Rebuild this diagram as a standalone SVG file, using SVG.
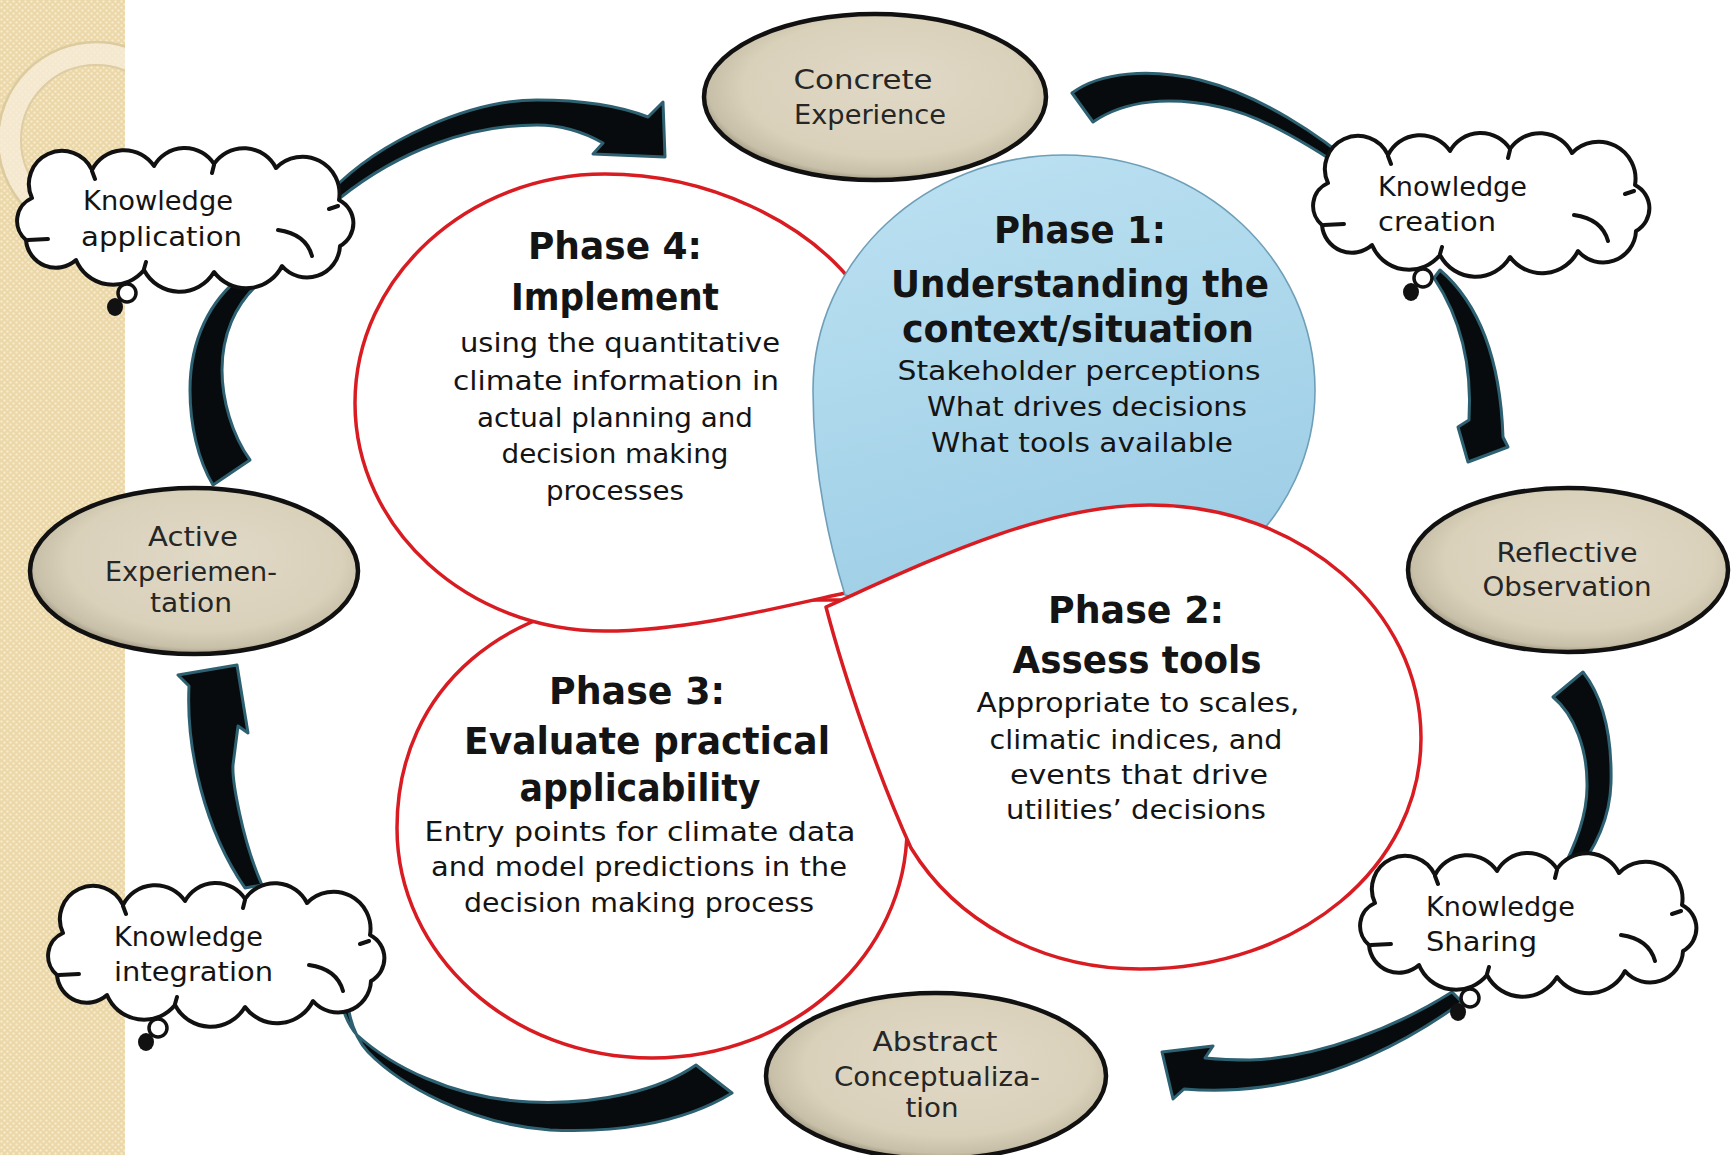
<svg xmlns="http://www.w3.org/2000/svg" xmlns:xlink="http://www.w3.org/1999/xlink" width="1731" height="1155" viewBox="0 0 1731 1155">
  <defs>
    <style>
      text { font-family: "Comic Sans MS", "DejaVu Sans", sans-serif; fill: #141414; }
      .ph { font-size: 37px; font-weight: bold; text-anchor: middle; }
      .bd { font-size: 26px; text-anchor: middle; }
      .el { font-size: 26px; text-anchor: middle; fill: #262626; }
      .cl { font-size: 26px; text-anchor: start; }
      .phase { fill: #ffffff; stroke: #d81c22; stroke-width: 3.5; stroke-linejoin: round; }
      .phase1 { fill: url(#blueFill); stroke: #6f9fb8; stroke-width: 1.6; }
      .stage { fill: url(#tanFill); stroke: #111111; stroke-width: 4.5; }
      .arrow { fill: #070b0d; stroke: #2d6171; stroke-width: 3; stroke-linejoin: round; }
      .cloud { fill: #ffffff; stroke: #111111; stroke-width: 4; stroke-linejoin: round; }
      .crease { fill: none; stroke: #111111; stroke-width: 4; stroke-linecap: round; }
    </style>
    <pattern id="dots" width="6" height="6" patternUnits="userSpaceOnUse">
      <rect width="6" height="6" fill="#ebd7a8"/>
      <circle cx="1.5" cy="1.5" r="1.2" fill="#f6eacf"/>
      <circle cx="4.5" cy="4.5" r="1.2" fill="#f6eacf"/>
    </pattern>
    <clipPath id="stripClip">
      <rect x="0" y="0" width="125" height="1155"/>
    </clipPath>
    <radialGradient id="tanFill" cx="52%" cy="46%" r="55%" fx="58%" fy="38%">
      <stop offset="0" stop-color="#e0d9c6"/>
      <stop offset="0.76" stop-color="#dad1bb"/>
      <stop offset="0.93" stop-color="#c8bfa8"/>
      <stop offset="1" stop-color="#9a917d"/>
    </radialGradient>
    <linearGradient id="blueFill" x1="0" y1="0" x2="0.3" y2="1">
      <stop offset="0" stop-color="#bde2f2"/>
      <stop offset="1" stop-color="#9ecee6"/>
    </linearGradient>
    <!-- thought cloud, local box about 340 x 160 -->
    <g id="cloudShape">
      <path class="cloud" d="M 12,90 A 25,25 0 0 1 18,48 A 33,33 0 0 1 78,20 A 36,36 0 0 1 140,16 A 35,35 0 0 1 200,14 A 36,36 0 0 1 262,18 A 37,37 0 0 1 325,50 A 26,26 0 0 1 326,96 A 33,33 0 0 1 268,116 A 40,40 0 0 1 200,122 A 40,40 0 0 1 130,120 A 40,40 0 0 1 62,110 A 30,30 0 0 1 12,90 Z"/>
      <path class="crease" d="M 14,90 l 20,-1 M 78,21 l 3,8 M 200,15 l -2,8 M 324,56 l -9,3 M 264,80 Q 292,84 298,106 M 130,119 l 2,-7"/>
      <circle cx="113" cy="143" r="9" fill="#ffffff" stroke="#111111" stroke-width="3.5"/>
      <ellipse cx="101" cy="157" rx="8" ry="9" fill="#111111"/>
    </g>
  </defs>

  <!-- page background and decorated margin -->
  <rect x="0" y="0" width="1731" height="1155" fill="#ffffff"/>
  <g id="margin">
    <rect x="0" y="0" width="125" height="1155" fill="url(#dots)"/>
    <g clip-path="url(#stripClip)" fill="none">
      <circle cx="96" cy="140" r="86" stroke="#f7eedb" stroke-width="22" opacity="0.75"/>
      <circle cx="96" cy="140" r="98" stroke="#dccb9f" stroke-width="2.5"/>
      <circle cx="96" cy="140" r="75" stroke="#decda3" stroke-width="2"/>
    </g>
  </g>

  <!-- the four phases -->
  <g id="phase3">
    <path class="phase" d="M 397,828 C 397,685 511,598 652,598 C 720,598 790,600 840,600 C 880,660 907,750 907,828 C 907,955 793,1058 652,1058 C 511,1058 397,955 397,828 Z"/>
    <text class="ph" x="637" y="704" textLength="176" lengthAdjust="spacingAndGlyphs">Phase 3:</text>
    <text class="ph" x="647" y="754" textLength="366" lengthAdjust="spacingAndGlyphs">Evaluate practical</text>
    <text class="ph" x="640" y="801" textLength="241" lengthAdjust="spacingAndGlyphs">applicability</text>
    <text class="bd" x="640" y="841" textLength="431" lengthAdjust="spacingAndGlyphs">Entry points for climate data</text>
    <text class="bd" x="639" y="876" textLength="416" lengthAdjust="spacingAndGlyphs">and model predictions in the</text>
    <text class="bd" x="639" y="912" textLength="350" lengthAdjust="spacingAndGlyphs">decision making process</text>
  </g>

  <g id="phase4">
    <path class="phase" d="M 845,593 C 773,609 684,631 605,631 C 468,631 355,529 355,403 C 355,277 468,174 605,174 C 707,174 806,221 856,287 C 872,364 861,497 845,593 Z"/>
    <text class="ph" x="615" y="259" textLength="174" lengthAdjust="spacingAndGlyphs">Phase 4:</text>
    <text class="ph" x="615" y="310" textLength="208" lengthAdjust="spacingAndGlyphs">Implement</text>
    <text class="bd" x="620" y="352" textLength="320" lengthAdjust="spacingAndGlyphs">using the quantitative</text>
    <text class="bd" x="616" y="390" textLength="326" lengthAdjust="spacingAndGlyphs">climate information in</text>
    <text class="bd" x="615" y="427" textLength="276" lengthAdjust="spacingAndGlyphs">actual planning and</text>
    <text class="bd" x="615" y="463" textLength="227" lengthAdjust="spacingAndGlyphs">decision making</text>
    <text class="bd" x="615" y="500" textLength="138" lengthAdjust="spacingAndGlyphs">processes</text>
  </g>

  <g id="phase1">
    <path class="phase1" d="M 845,595 C 825,530 813,460 813,390 C 813,260 925,155 1064,155 C 1203,155 1315,260 1315,390 C 1315,517 1203,620 1064,620 C 980,620 890,605 845,595 Z"/>
    <text class="ph" x="1080" y="243" textLength="172" lengthAdjust="spacingAndGlyphs">Phase 1:</text>
    <text class="ph" x="1080" y="297" textLength="378" lengthAdjust="spacingAndGlyphs">Understanding the</text>
    <text class="ph" x="1078" y="342" textLength="352" lengthAdjust="spacingAndGlyphs">context/situation</text>
    <text class="bd" x="1079" y="380" textLength="363" lengthAdjust="spacingAndGlyphs">Stakeholder perceptions</text>
    <text class="bd" x="1087" y="416" textLength="320" lengthAdjust="spacingAndGlyphs">What drives decisions</text>
    <text class="bd" x="1082" y="452" textLength="302" lengthAdjust="spacingAndGlyphs">What tools available</text>
  </g>

  <g id="phase2">
    <path class="phase" d="M 826,607 C 920,565 1040,505 1150,505 C 1300,505 1421,610 1421,738 C 1421,866 1300,969 1140,969 C 1040,969 955,920 911,848 C 880,780 845,680 826,607 Z"/>
    <text class="ph" x="1136" y="623" textLength="176" lengthAdjust="spacingAndGlyphs">Phase 2:</text>
    <text class="ph" x="1137" y="673" textLength="249" lengthAdjust="spacingAndGlyphs">Assess tools</text>
    <text class="bd" x="1138" y="712" textLength="323" lengthAdjust="spacingAndGlyphs">Appropriate to scales,</text>
    <text class="bd" x="1136" y="749" textLength="293" lengthAdjust="spacingAndGlyphs">climatic indices, and</text>
    <text class="bd" x="1139" y="784" textLength="258" lengthAdjust="spacingAndGlyphs">events that drive</text>
    <text class="bd" x="1136" y="819" textLength="260" lengthAdjust="spacingAndGlyphs">utilities’ decisions</text>
  </g>

  <!-- curved cycle arrows -->
  <g id="connectors">
    <path class="arrow" d="M 213,485 L 250,460 C 232,435 222,400 222,370 C 222,335 235,305 258,284 L 242,276 C 210,300 190,340 190,390 C 190,425 198,460 213,485 Z"/>
    <path class="arrow" d="M 330,192 C 380,140 470,100 537,100 C 590,100 625,108 648,117 L 663,102 L 665,157 L 593,154 L 603,143 C 580,130 560,125 537,125 C 470,125 400,150 340,198 Z"/>
    <path class="arrow" d="M 1072,93 C 1100,72 1150,68 1200,80 C 1260,95 1320,135 1360,170 L 1352,174 C 1310,145 1260,115 1220,107 C 1170,96 1125,100 1093,122 Z"/>
    <path class="arrow" d="M 1440,270 C 1475,300 1500,350 1503,437 L 1508,447 L 1468,462 L 1458,427 L 1469,420 C 1472,370 1462,320 1434,278 Z"/>
    <path class="arrow" d="M 1553,697 L 1583,672 C 1605,700 1612,740 1611,783 C 1610,820 1595,850 1572,878 L 1560,875 C 1575,845 1588,815 1587,783 C 1587,750 1575,715 1553,697 Z"/>
    <path class="arrow" d="M 1452,992 C 1400,1025 1320,1058 1250,1060 C 1232,1060 1215,1059 1205,1058 L 1213,1046 L 1162,1052 L 1173,1099 L 1184,1089 C 1210,1091 1240,1090 1262,1087 C 1340,1077 1410,1040 1462,1002 Z"/>
    <path class="arrow" d="M 696,1065 L 732,1093 C 680,1125 610,1133 550,1130 C 470,1124 400,1085 368,1052 C 355,1038 348,1015 346,992 L 338,990 C 342,1010 348,1025 357,1035 C 390,1065 450,1098 530,1102 C 600,1105 660,1090 696,1065 Z"/>
    <path class="arrow" d="M 262,885 C 242,840 232,780 233,765 L 238,726 L 248,733 L 237,665 L 178,675 L 189,686 C 186,750 205,830 245,888 Z"/>
  </g>

  <!-- learning-cycle stages -->
  <g id="concrete-experience">
    <ellipse class="stage" cx="875" cy="97" rx="171" ry="83"/>
    <text class="el" x="863" y="89" textLength="139" lengthAdjust="spacingAndGlyphs">Concrete</text>
    <text class="el" x="870" y="124" textLength="152" lengthAdjust="spacingAndGlyphs">Experience</text>
  </g>
  <g id="reflective-observation">
    <ellipse class="stage" cx="1568" cy="570" rx="160" ry="82"/>
    <text class="el" x="1567" y="562" textLength="141" lengthAdjust="spacingAndGlyphs">Reflective</text>
    <text class="el" x="1567" y="596" textLength="169" lengthAdjust="spacingAndGlyphs">Observation</text>
  </g>
  <g id="abstract-conceptualization">
    <ellipse class="stage" cx="936" cy="1076" rx="170" ry="83"/>
    <text class="el" x="935" y="1051" textLength="125" lengthAdjust="spacingAndGlyphs">Abstract</text>
    <text class="el" x="937" y="1086" textLength="206" lengthAdjust="spacingAndGlyphs">Conceptualiza-</text>
    <text class="el" x="932" y="1117" textLength="53" lengthAdjust="spacingAndGlyphs">tion</text>
  </g>
  <g id="active-experimentation">
    <ellipse class="stage" cx="194" cy="571" rx="164" ry="83"/>
    <text class="el" x="193" y="546" textLength="90" lengthAdjust="spacingAndGlyphs">Active</text>
    <text class="el" x="191" y="581" textLength="172" lengthAdjust="spacingAndGlyphs">Experiemen-</text>
    <text class="el" x="191" y="612" textLength="82" lengthAdjust="spacingAndGlyphs">tation</text>
  </g>

  <!-- knowledge thought clouds -->
  <g id="knowledge-application" transform="translate(14,150)">
    <use xlink:href="#cloudShape"/>
    <text class="cl" x="69" y="60" textLength="150" lengthAdjust="spacingAndGlyphs">Knowledge</text>
    <text class="cl" x="67" y="96" textLength="161" lengthAdjust="spacingAndGlyphs">application</text>
  </g>
  <g id="knowledge-creation" transform="translate(1310,135)">
    <use xlink:href="#cloudShape"/>
    <text class="cl" x="68" y="61" textLength="149" lengthAdjust="spacingAndGlyphs">Knowledge</text>
    <text class="cl" x="68" y="96" textLength="118" lengthAdjust="spacingAndGlyphs">creation</text>
  </g>
  <g id="knowledge-integration" transform="translate(45,885)">
    <use xlink:href="#cloudShape"/>
    <text class="cl" x="69" y="61" textLength="149" lengthAdjust="spacingAndGlyphs">Knowledge</text>
    <text class="cl" x="69" y="96" textLength="159" lengthAdjust="spacingAndGlyphs">integration</text>
  </g>
  <g id="knowledge-sharing" transform="translate(1357,855)">
    <use xlink:href="#cloudShape"/>
    <text class="cl" x="69" y="61" textLength="149" lengthAdjust="spacingAndGlyphs">Knowledge</text>
    <text class="cl" x="69" y="96" textLength="111" lengthAdjust="spacingAndGlyphs">Sharing</text>
  </g>
</svg>
